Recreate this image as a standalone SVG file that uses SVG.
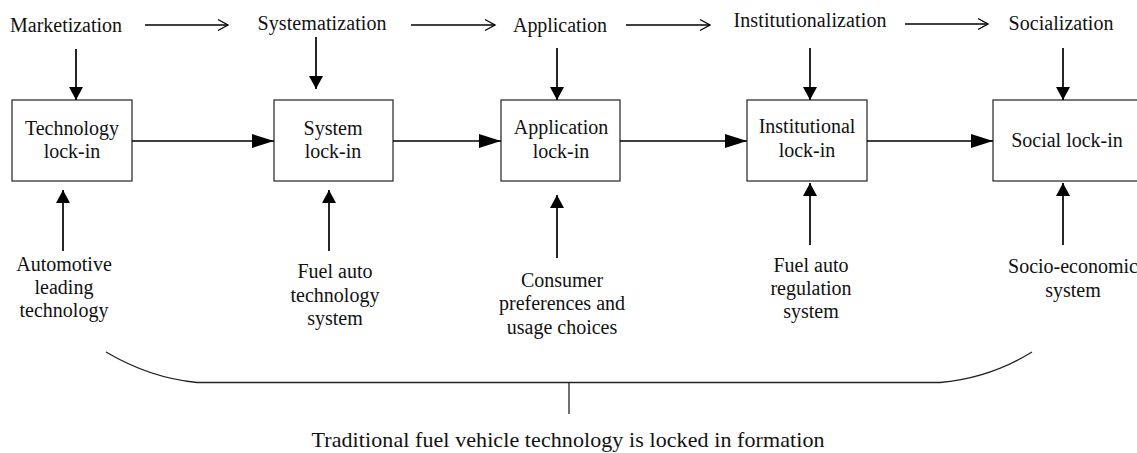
<svg xmlns="http://www.w3.org/2000/svg" width="1137" height="453" viewBox="0 0 1137 453">
<style>
text{font-family:"Liberation Serif","Times New Roman",serif;font-size:20px;fill:#111;text-anchor:middle}
text.cap{font-size:22px}
.box{fill:#fff;stroke:#222;stroke-width:1.2}
.ar{stroke:#000;stroke-width:1.7;fill:none}
.h{marker-end:url(#fLong)}
.v{marker-end:url(#fShort)}
.o{marker-end:url(#open);stroke-width:1.3}
.br{stroke:#222;stroke-width:1.3;fill:none}
</style>
<defs>
<marker id="fLong" viewBox="0 0 22 14" refX="22" refY="7" markerWidth="22" markerHeight="14" markerUnits="userSpaceOnUse" orient="auto"><path d="M0,0 L22,7 L0,14 z" fill="#000"/></marker>
<marker id="fShort" viewBox="0 0 13 14" refX="13" refY="7" markerWidth="13" markerHeight="14" markerUnits="userSpaceOnUse" orient="auto"><path d="M0,0 L13,7 L0,14 z" fill="#000"/></marker>
<marker id="open" viewBox="0 0 14 14" refX="12" refY="7" markerWidth="14" markerHeight="14" markerUnits="userSpaceOnUse" orient="auto"><path d="M2,1.5 L12,7 L2,12.5" fill="none" stroke="#000" stroke-width="1.3"/></marker>
</defs>

<g id="stages">
<text x="66" y="32" textLength="112">Marketization</text>
<text x="322" y="30" textLength="129">Systematization</text>
<text x="560" y="32" textLength="94">Application</text>
<text x="810" y="27" textLength="153">Institutionalization</text>
<text x="1061" y="30" textLength="105">Socialization</text>
</g>

<g id="node-technology"><rect class="box" x="12" y="100" width="120" height="81"/><text x="72" y="135">Technology</text><text x="72" y="158">lock-in</text></g>
<g id="node-system"><rect class="box" x="274" y="100" width="119" height="81"/><text x="333" y="135">System</text><text x="333" y="158">lock-in</text></g>
<g id="node-application"><rect class="box" x="501" y="100" width="119" height="81"/><text x="561" y="134">Application</text><text x="561" y="158">lock-in</text></g>
<g id="node-institutional"><rect class="box" x="747" y="100" width="120" height="81"/><text x="807" y="133">Institutional</text><text x="807" y="157">lock-in</text></g>
<g id="node-social"><rect class="box" x="993" y="100" width="160" height="81"/><text x="1067" y="147">Social lock-in</text></g>

<g id="factors">
<text x="64" y="271">Automotive</text><text x="64" y="294">leading</text><text x="64" y="317">technology</text>
<text x="335" y="278">Fuel auto</text><text x="335" y="302">technology</text><text x="335" y="325">system</text>
<text x="562" y="287">Consumer</text><text x="562" y="310">preferences and</text><text x="562" y="334">usage choices</text>
<text x="811" y="272">Fuel auto</text><text x="811" y="295">regulation</text><text x="811" y="318">system</text>
<text x="1073" y="273">Socio-economic</text><text x="1073" y="297">system</text>
</g>

<g id="connectors">
<line class="ar o" x1="145" y1="25" x2="228" y2="25"/>
<line class="ar o" x1="411" y1="25" x2="495" y2="25"/>
<line class="ar o" x1="626" y1="25" x2="710" y2="25"/>
<line class="ar o" x1="905" y1="24" x2="988" y2="24"/>

<line class="ar v" x1="76" y1="49" x2="76" y2="100"/>
<line class="ar v" x1="316" y1="37" x2="316" y2="89"/>
<line class="ar v" x1="557" y1="48" x2="557" y2="100"/>
<line class="ar v" x1="810" y1="48" x2="810" y2="100"/>
<line class="ar v" x1="1063" y1="48" x2="1063" y2="100"/>

<line class="ar h" x1="132" y1="141" x2="274" y2="141"/>
<line class="ar h" x1="393" y1="141" x2="501" y2="141"/>
<line class="ar h" x1="620" y1="141" x2="747" y2="141"/>
<line class="ar h" x1="867" y1="141" x2="993" y2="141"/>

<line class="ar v" x1="63" y1="251" x2="63" y2="190"/>
<line class="ar v" x1="329" y1="251" x2="329" y2="190"/>
<line class="ar v" x1="557" y1="258" x2="557" y2="195"/>
<line class="ar v" x1="810" y1="245" x2="810" y2="183"/>
<line class="ar v" x1="1063" y1="245" x2="1063" y2="183"/>
</g>

<g id="brace">
<path class="br" d="M106,352 Q150,378 197,382.5 L940,382.5 Q990,378 1032,352"/>
<line class="br" x1="569" y1="383" x2="569" y2="414"/>
<text class="cap" x="568" y="447" textLength="513">Traditional fuel vehicle technology is locked in formation</text>
</g>
</svg>
